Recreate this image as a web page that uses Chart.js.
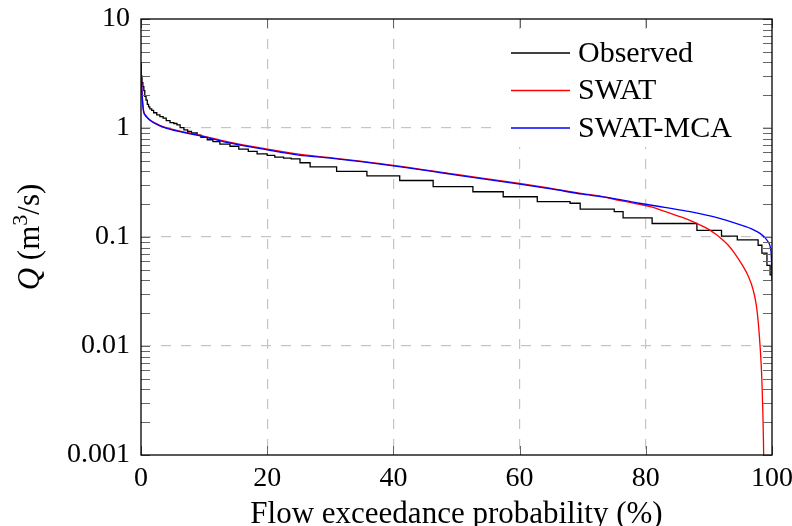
<!DOCTYPE html>
<html>
<head>
<meta charset="utf-8">
<script src="https://cdn.jsdelivr.net/npm/chart.js@4.4.1/dist/chart.umd.min.js"></script>
<style>
  html, body { margin: 0; padding: 0; background: #fff; }
  #wrap { width: 792px; height: 526px; position: relative; }
</style>
</head>
<body>
<div id="wrap"><canvas id="c" width="792" height="526"></canvas></div>
<script>
// ---- Data ----
const seriesNames = ['Observed', 'SWAT', 'SWAT-MCA'];
const seriesColors = ['#000000', '#ff0000', '#0000ff'];

// Observed flow duration curve (step points: exceedance %, Q m3/s)
const obsX = [0, 0.15, 0.3, 0.45, 0.6, 0.8, 1.0, 1.2, 1.4, 1.7, 2.0, 2.5, 3.0, 3.5, 4.0, 4.6, 5.2, 5.7, 6.2, 6.8, 7.4, 8.0, 8.9, 9.5, 10.5, 11.4, 12.5, 14.1, 15.5, 17.0, 18.4, 20.0, 21.2, 22.6, 23.8, 25.2, 26.8, 31.0, 35.8, 41.0, 46.3, 52.6, 57.4, 62.8, 68.0, 69.6, 75.0, 76.4, 81.0, 88.1, 92.0, 94.5, 97.8, 98.4, 99.2, 99.7, 100];
const obsQ = [3.1, 3.0, 2.6, 2.4, 2.2, 1.95, 1.8, 1.65, 1.56, 1.5, 1.45, 1.38, 1.32, 1.27, 1.23, 1.17, 1.12, 1.10, 1.07, 1.01, 0.96, 0.93, 0.90, 0.86, 0.82, 0.78, 0.75, 0.71, 0.68, 0.64, 0.61, 0.58, 0.56, 0.54, 0.53, 0.52, 0.48, 0.44, 0.40, 0.363, 0.33, 0.29, 0.26, 0.234, 0.211, 0.204, 0.18, 0.171, 0.150, 0.133, 0.115, 0.102, 0.094, 0.084, 0.071, 0.055, 0.045];

// SWAT simulated curve
const swatX = [0, 0.1, 0.2, 0.4, 0.7, 1.0, 1.4, 2.5, 3.5, 6.0, 8.9, 14.0, 20.0, 25.0, 30.0, 40.0, 50.0, 60.0, 65.0, 70.0, 73.0, 75.0, 78.0, 80.7, 83.0, 85.4, 87.0, 89.7, 91.0, 92.2, 93.0, 94.0, 95.4, 96.3, 97.0, 97.5, 97.8, 98.1, 98.3, 98.4, 98.55, 98.65, 98.7];
const swatQ = [4.0, 2.6, 1.95, 1.45, 1.32, 1.25, 1.19, 1.09, 1.03, 0.94, 0.87, 0.74, 0.64, 0.575, 0.535, 0.455, 0.375, 0.31, 0.279, 0.25, 0.236, 0.222, 0.205, 0.19, 0.172, 0.154, 0.142, 0.12, 0.107, 0.094, 0.085, 0.072, 0.054, 0.043, 0.033, 0.024, 0.017, 0.0102, 0.0065, 0.0048, 0.0025, 0.0013, 0.0008];

// SWAT-MCA simulated curve
const mcaX = [0, 0.1, 0.2, 0.4, 0.7, 1.0, 1.4, 2.5, 3.5, 6.0, 8.9, 14.0, 20.0, 25.0, 30.0, 40.0, 50.0, 60.0, 65.0, 70.0, 75.0, 79.0, 83.0, 87.0, 91.0, 95.0, 97.0, 98.1, 99.0, 99.5, 99.7, 99.9, 100];
const mcaQ = [4.0, 2.5, 1.9, 1.42, 1.3, 1.24, 1.18, 1.08, 1.02, 0.93, 0.86, 0.73, 0.63, 0.565, 0.53, 0.45, 0.37, 0.306, 0.276, 0.247, 0.225, 0.204, 0.187, 0.171, 0.152, 0.129, 0.117, 0.108, 0.097, 0.088, 0.082, 0.065, 0.04];

const xTicks = [0, 20, 40, 60, 80, 100];
const yTickVals = [0.001, 0.01, 0.1, 1, 10];
const yTickLabels = ['0.001', '0.01', '0.1', '1', '10'];
const xTitle = 'Flow exceedance probability (%)';

// ---- Drawing ----
const FONT = '"Liberation Serif", "Times New Roman", serif';
const FS_TICK = 28;
const FS_TEXT = 31;
const FS_LEG = 30;

function pts(xs, ys) { return xs.map((x, i) => ({ x: x, y: ys[i] })); }

const framePlugin = {
  id: 'frameTicks',
  afterDraw(chart) {
    const ctx = chart.ctx;
    const a = chart.chartArea;
    const xs = chart.scales.x, ys = chart.scales.y;
    // legend background + entries
    ctx.save();
    ctx.fillStyle = '#ffffff';
    ctx.fillRect(a.right - 273, a.top + 10, 264, 118);
    ctx.font = FS_LEG + 'px ' + FONT;
    ctx.textBaseline = 'middle';
    ctx.textAlign = 'left';
    chart.data.datasets.forEach((ds, i) => {
      const y = a.top + 34 + i * 37.5;
      ctx.strokeStyle = ds.borderColor;
      ctx.lineWidth = 1.3;
      ctx.beginPath();
      ctx.moveTo(a.right - 261, y);
      ctx.lineTo(a.right - 202, y);
      ctx.stroke();
      ctx.fillStyle = '#000';
      ctx.fillText(ds.label, a.right - 194, y + 1);
    });
    ctx.restore();

    // ticks (inward) on all sides
    ctx.save();
    ctx.strokeStyle = '#666';
    ctx.lineWidth = 1;
    const TL = 9;
    ctx.beginPath();
    xTicks.forEach(v => {
      const px = Math.round(xs.getPixelForValue(v)) + 0.5;
      ctx.moveTo(px, a.bottom); ctx.lineTo(px, a.bottom - TL);
      ctx.moveTo(px, a.top); ctx.lineTo(px, a.top + TL);
    });
    for (let e = -3; e <= 1; e++) {
      for (let m = 1; m <= 9; m++) {
        const v = m * Math.pow(10, e);
        if (v < 0.001 || v > 10) continue;
        const py = Math.round(ys.getPixelForValue(v)) + 0.5;
        ctx.moveTo(a.left, py); ctx.lineTo(a.left + TL, py);
        ctx.moveTo(a.right, py); ctx.lineTo(a.right - TL, py);
      }
    }
    ctx.stroke();
    ctx.restore();

    // frame
    ctx.save();
    ctx.strokeStyle = '#000';
    ctx.lineWidth = 1.3;
    ctx.strokeRect(a.left, a.top, a.right - a.left, a.bottom - a.top);
    ctx.restore();

    // y-axis title: Q (m^3/s)
    ctx.save();
    ctx.translate(30, (a.top + a.bottom) / 2);
    ctx.rotate(-Math.PI / 2);
    ctx.fillStyle = '#000';
    ctx.textBaseline = 'middle';
    ctx.textAlign = 'left';
    const parts = [
      { t: 'Q', f: 'italic ' + FS_TEXT + 'px ' + FONT, dy: 0 },
      { t: ' (m', f: FS_TEXT + 'px ' + FONT, dy: 0 },
      { t: '3', f: Math.round(FS_TEXT * 0.7) + 'px ' + FONT, dy: -10 },
      { t: '/s)', f: FS_TEXT + 'px ' + FONT, dy: 0 }
    ];
    let total = 0;
    parts.forEach(p => { ctx.font = p.f; p.w = ctx.measureText(p.t).width; total += p.w; });
    let x0 = -total / 2;
    parts.forEach(p => { ctx.font = p.f; ctx.fillText(p.t, x0, p.dy + 1); x0 += p.w; });
    ctx.restore();
  }
};

new Chart(document.getElementById('c'), {
  type: 'line',
  data: {
    datasets: [
      { label: seriesNames[0], data: pts(obsX, obsQ), borderColor: seriesColors[0], backgroundColor: seriesColors[0], borderWidth: 1.3, pointRadius: 0, stepped: 'after', order: 3 },
      { label: seriesNames[1], data: pts(swatX, swatQ), borderColor: seriesColors[1], backgroundColor: seriesColors[1], borderWidth: 1.3, pointRadius: 0, tension: 0.3, cubicInterpolationMode: 'monotone', order: 2 },
      { label: seriesNames[2], data: pts(mcaX, mcaQ), borderColor: seriesColors[2], backgroundColor: seriesColors[2], borderWidth: 1.3, pointRadius: 0, tension: 0.3, cubicInterpolationMode: 'monotone', order: 1 }
    ]
  },
  options: {
    responsive: false,
    animation: false,
    devicePixelRatio: 1,
    layout: { padding: { top: 19, right: 20, left: 0, bottom: 0 } },
    plugins: { legend: { display: false }, tooltip: { enabled: false } },
    scales: {
      x: {
        type: 'linear', min: 0, max: 100,
        afterBuildTicks: (s) => { s.ticks = xTicks.map(v => ({ value: v })); },
        afterFit: (s) => { s.height = 71; s.paddingLeft = 0; s.paddingRight = 0; },
        ticks: { font: { family: FONT, size: FS_TICK }, color: '#000', padding: 7, maxRotation: 0, autoSkip: false },
        grid: { color: (c) => (c.tick && (c.tick.value === 0 || c.tick.value === 100)) ? 'rgba(0,0,0,0)' : '#c4c4c4', lineWidth: 1.2, drawTicks: false },
        border: { display: false, dash: [10, 10] },
        title: { display: true, text: xTitle, font: { family: FONT, size: FS_TEXT, lineHeight: 1.0 }, color: '#000', padding: { top: 0, bottom: -4 } }
      },
      y: {
        type: 'logarithmic', min: 0.001, max: 10,
        afterBuildTicks: (s) => { s.ticks = yTickVals.map(v => ({ value: v })); },
        afterFit: (s) => { s.width = 141; s.paddingTop = 0; s.paddingBottom = 0; },
        ticks: { font: { family: FONT, size: FS_TICK }, color: '#000', padding: 11, autoSkip: false,
          callback: (v) => { const i = yTickVals.findIndex(t => Math.abs(t - v) / t < 1e-6); return i >= 0 ? yTickLabels[i] : ''; } },
        grid: { color: (c) => (c.tick && (c.tick.value === 0.001 || c.tick.value === 10)) ? 'rgba(0,0,0,0)' : '#c4c4c4', lineWidth: 1.2, drawTicks: false },
        border: { display: false, dash: [10, 10] }
      }
    }
  },
  plugins: [framePlugin]
});
</script>
</body>
</html>
